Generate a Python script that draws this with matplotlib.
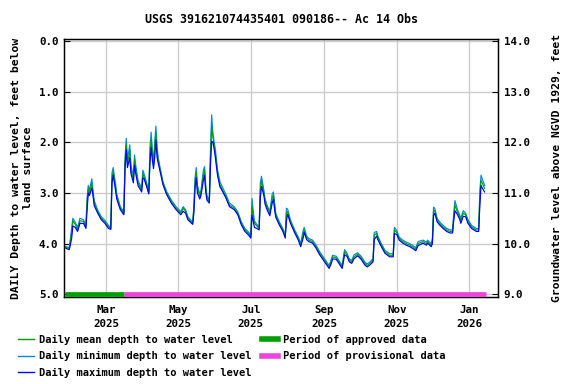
import datetime as dt
import matplotlib
matplotlib.use("Agg")
import matplotlib.pyplot as plt
import matplotlib.dates as mdates
from matplotlib.lines import Line2D

title = "USGS 391621074435401 090186-- Ac 14 Obs"
start_date = dt.datetime(2025, 1, 25)

# day offsets from start_date, daily mean / min / max depth to water (ft)
days = [0, 4, 6, 7, 9, 11, 13, 16, 18, 19, 20, 21, 23, 24, 25, 28, 31, 34, 37, 39,
        40, 41, 43, 44, 47, 50, 51, 52, 53, 54, 55, 56, 58, 59, 60, 62, 65, 66, 67, 69,
        71, 72, 73, 74, 75, 76, 77, 78, 79, 80, 83, 86, 90, 94, 98, 100, 102, 104, 108, 109,
        110, 111, 112, 114, 115, 117, 118, 119, 120, 122, 123, 124, 125, 126, 127, 128, 129, 131, 133, 136,
        139, 143, 146, 149, 152, 155, 157, 158, 159, 160, 162, 164, 165, 166, 168, 169, 171, 173, 175, 176,
        177, 178, 181, 184, 186, 187, 188, 190, 191, 194, 197, 199, 201, 202, 204, 206, 209, 212, 215, 218,
        221, 223, 225, 226, 229, 232, 234, 236, 238, 240, 242, 244, 247, 250, 253, 255, 257, 260, 261, 263,
        264, 267, 270, 274, 277, 278, 280, 282, 285, 288, 291, 293, 296, 298, 302, 305, 306, 309, 310, 311,
        312, 314, 316, 319, 322, 325, 327, 328, 329, 331, 333, 334, 336, 338, 340, 343, 345, 347, 349, 350,
        351, 352, 354]

depth_mean = [4.06, 4.10, 3.80, 3.55, 3.62, 3.73, 3.55, 3.56, 3.67, 3.20, 2.92, 3.00, 2.80, 3.00, 3.20, 3.37, 3.50, 3.57, 3.67, 3.70,
              2.70, 2.58, 2.88, 3.07, 3.30, 3.40, 2.40, 2.05, 2.40, 2.30, 2.15, 2.55, 2.74, 2.35, 2.55, 2.81, 2.94, 2.62, 2.68, 2.82,
              3.00, 2.30, 1.95, 2.25, 2.45, 2.10, 1.80, 2.20, 2.35, 2.48, 2.81, 3.00, 3.17, 3.30, 3.40, 3.30, 3.36, 3.50, 3.60, 3.30,
              2.80, 2.60, 2.90, 3.07, 3.00, 2.65, 2.55, 2.90, 3.10, 3.17, 2.30, 1.69, 1.90, 2.05, 2.20, 2.40, 2.61, 2.84, 2.94, 3.07,
              3.24, 3.30, 3.40, 3.60, 3.73, 3.80, 3.86, 3.27, 3.45, 3.60, 3.65, 3.70, 2.95, 2.75, 3.00, 3.17, 3.30, 3.40, 3.10, 3.04,
              3.25, 3.44, 3.60, 3.73, 3.86, 3.40, 3.37, 3.53, 3.60, 3.76, 3.90, 4.03, 3.83, 3.73, 3.88, 3.93, 3.96, 4.06, 4.19, 4.29,
              4.39, 4.46, 4.33, 4.26, 4.28, 4.39, 4.46, 4.16, 4.22, 4.33, 4.36, 4.26, 4.21, 4.28, 4.39, 4.43, 4.40, 4.33, 3.83, 3.80,
              3.88, 4.03, 4.16, 4.23, 4.23, 3.73, 3.78, 3.90, 3.96, 4.00, 4.03, 4.06, 4.11, 4.00, 3.96, 4.00, 3.96, 4.03, 3.95, 3.34,
              3.35, 3.53, 3.60, 3.67, 3.73, 3.76, 3.76, 3.47, 3.24, 3.37, 3.47, 3.55, 3.40, 3.43, 3.56, 3.67, 3.70, 3.73, 3.73, 3.10,
              2.75, 2.80, 2.91]

depth_min = [4.05, 4.08, 3.70, 3.50, 3.58, 3.68, 3.50, 3.53, 3.64, 3.10, 2.85, 2.95, 2.72, 2.95, 3.15, 3.34, 3.47, 3.54, 3.64, 3.68,
             2.60, 2.50, 2.82, 3.02, 3.27, 3.37, 2.30, 1.92, 2.30, 2.20, 2.05, 2.45, 2.68, 2.25, 2.45, 2.76, 2.90, 2.55, 2.62, 2.78,
             2.96, 2.10, 1.80, 2.15, 2.38, 2.00, 1.68, 2.10, 2.30, 2.44, 2.78, 2.97, 3.14, 3.27, 3.37, 3.27, 3.33, 3.47, 3.58, 3.25,
             2.70, 2.50, 2.85, 3.02, 2.95, 2.55, 2.48, 2.85, 3.05, 3.14, 2.10, 1.46, 1.80, 1.98, 2.12, 2.33, 2.55, 2.78, 2.88, 3.03,
             3.20, 3.27, 3.37, 3.57, 3.70, 3.77, 3.83, 3.11, 3.35, 3.55, 3.62, 3.67, 2.80, 2.67, 2.95, 3.12, 3.26, 3.36, 3.02, 2.98,
             3.18, 3.40, 3.57, 3.70, 3.83, 3.30, 3.32, 3.50, 3.57, 3.73, 3.87, 4.00, 3.75, 3.68, 3.85, 3.90, 3.93, 4.03, 4.16, 4.26,
             4.36, 4.43, 4.29, 4.23, 4.25, 4.36, 4.43, 4.12, 4.19, 4.30, 4.33, 4.22, 4.18, 4.25, 4.36, 4.40, 4.37, 4.30, 3.78, 3.76,
             3.85, 4.00, 4.13, 4.20, 4.20, 3.68, 3.74, 3.87, 3.93, 3.97, 4.00, 4.03, 4.08, 3.96, 3.93, 3.97, 3.93, 4.00, 3.90, 3.28,
             3.30, 3.50, 3.57, 3.64, 3.70, 3.73, 3.73, 3.40, 3.15, 3.32, 3.43, 3.50, 3.35, 3.40, 3.53, 3.64, 3.67, 3.70, 3.70, 2.95,
             2.65, 2.72, 2.85]

depth_max = [4.08, 4.12, 3.90, 3.65, 3.68, 3.76, 3.60, 3.60, 3.70, 3.35, 3.00, 3.05, 2.90, 3.05, 3.25, 3.40, 3.53, 3.60, 3.70, 3.72,
             2.80, 2.65, 2.95, 3.12, 3.33, 3.43, 2.50, 2.15, 2.50, 2.40, 2.30, 2.62, 2.80, 2.45, 2.62, 2.86, 2.98, 2.70, 2.72, 2.86,
             3.02, 2.40, 2.10, 2.35, 2.52, 2.30, 1.95, 2.30, 2.42, 2.52, 2.84, 3.03, 3.20, 3.33, 3.43, 3.36, 3.40, 3.53, 3.62, 3.40,
             2.90, 2.70, 3.00, 3.12, 3.05, 2.75, 2.65, 2.98, 3.14, 3.20, 2.45, 1.98, 2.00, 2.12, 2.28, 2.48, 2.66, 2.88, 2.96, 3.10,
             3.27, 3.33, 3.43, 3.63, 3.76, 3.83, 3.89, 3.44, 3.55, 3.68, 3.70, 3.73, 3.10, 2.87, 3.05, 3.22, 3.35, 3.45, 3.20, 3.12,
             3.32, 3.48, 3.63, 3.76, 3.89, 3.55, 3.42, 3.57, 3.63, 3.79, 3.93, 4.06, 3.90, 3.78, 3.92, 3.96, 3.99, 4.09, 4.22, 4.32,
             4.42, 4.49, 4.38, 4.30, 4.31, 4.42, 4.49, 4.22, 4.25, 4.36, 4.39, 4.30, 4.24, 4.31, 4.42, 4.46, 4.43, 4.36, 3.92, 3.85,
             3.92, 4.06, 4.19, 4.26, 4.26, 3.80, 3.82, 3.93, 3.99, 4.03, 4.06, 4.09, 4.14, 4.04, 3.99, 4.03, 3.99, 4.06, 4.00, 3.45,
             3.40, 3.57, 3.63, 3.70, 3.76, 3.79, 3.79, 3.55, 3.35, 3.42, 3.52, 3.60, 3.46, 3.47, 3.60, 3.70, 3.73, 3.76, 3.76, 3.25,
             2.85, 2.90, 2.98]

approved_period = (0, 50)
provisional_period = (50, 355)
xlim_days = (-0.5, 365.5)
left_ticks = [0.0, 1.0, 2.0, 3.0, 4.0, 5.0]
right_ticks = [14.0, 13.0, 12.0, 11.0, 10.0, 9.0]
datum_offset = 14.0

mono = "DejaVu Sans Mono"
plt.rcParams["font.family"] = mono
plt.rcParams["font.weight"] = "bold"
fs_title = 8.4
fs_label = 8.2
fs_tick = 7.8
fs_leg = 7.5

dates = [start_date + dt.timedelta(days=d) for d in days]

fig = plt.figure(figsize=(5.76, 3.84), dpi=100)
ax = fig.add_axes([0.111, 0.227, 0.754, 0.671])

c_mean = "#00a000"
c_min = "#0088dd"
c_max = "#0000ff"
c_appr = "#00a000"
c_prov = "#f043dc"

ax.plot(dates, depth_min, color=c_min, lw=0.85, zorder=3)
ax.plot(dates, depth_mean, color=c_mean, lw=0.85, zorder=4)
ax.plot(dates, depth_max, color=c_max, lw=0.85, zorder=5)

ax.plot([start_date + dt.timedelta(days=approved_period[0]), start_date + dt.timedelta(days=approved_period[1])],
        [5.0, 5.0], color=c_appr, lw=3.4, solid_capstyle="butt", zorder=6)
ax.plot([start_date + dt.timedelta(days=provisional_period[0]), start_date + dt.timedelta(days=provisional_period[1])],
        [5.0, 5.0], color=c_prov, lw=3.4, solid_capstyle="butt", zorder=6)

ax.set_xlim(start_date + dt.timedelta(days=xlim_days[0]), start_date + dt.timedelta(days=xlim_days[1]))
ax.set_ylim(5.05, -0.035)
ax.set_yticks(left_ticks)
ax.set_yticklabels([f"{v:.1f}" for v in left_ticks], fontsize=fs_tick, fontweight="bold")
ax.xaxis.set_major_locator(mdates.MonthLocator(bymonth=[1, 3, 5, 7, 9, 11]))
ax.xaxis.set_major_formatter(mdates.DateFormatter("%b\n%Y"))
ax.tick_params(axis="x", length=0, pad=6, labelsize=fs_tick)
for lbl in ax.get_xticklabels():
    lbl.set_fontweight("bold")
    lbl.set_linespacing(1.5)
ax.tick_params(axis="y", direction="in", length=4, pad=4, labelsize=fs_tick)
ax.grid(True, color="#cccccc", lw=1.0, zorder=0)
ax.set_axisbelow(True)
for sp in ax.spines.values():
    sp.set_linewidth(1.0)
    sp.set_color("black")

ax2 = ax.twinx()
ax2.set_ylim(datum_offset - 5.05, datum_offset + 0.035)
ax2.set_yticks(right_ticks)
ax2.set_yticklabels([f"{v:.1f}" for v in right_ticks], fontsize=fs_tick, fontweight="bold")
ax2.tick_params(axis="y", direction="in", length=4, pad=4, labelsize=fs_tick)

ax.set_ylabel("DAILY Depth to water level, feet below\nland surface", fontsize=fs_label,
              fontweight="bold", labelpad=4, linespacing=1.3)
ax2.set_ylabel("Groundwater level above NGVD 1929, feet", fontsize=fs_label, fontweight="bold", labelpad=16)
ax.set_title(title, fontsize=fs_title, fontweight="bold", pad=12)

handles = [
    Line2D([], [], color=c_mean, lw=1.0),
    Line2D([], [], color=c_min, lw=1.0),
    Line2D([], [], color=c_max, lw=1.0),
    Line2D([], [], color=c_appr, lw=4.0),
    Line2D([], [], color=c_prov, lw=4.0),
]
labels = [
    "Daily mean depth to water level",
    "Daily minimum depth to water level",
    "Daily maximum depth to water level",
    "Period of approved data",
    "Period of provisional data",
]
fig.legend(handles, labels, loc="upper left", bbox_to_anchor=(0.031, 0.128), ncol=2,
           frameon=False, handlelength=1.55, handletextpad=0.5,
           columnspacing=0.95, labelspacing=0.62, borderaxespad=0.0, borderpad=0.0,
           prop={"family": mono, "weight": "bold", "size": fs_leg})

fig.savefig("out.png", dpi=100)
